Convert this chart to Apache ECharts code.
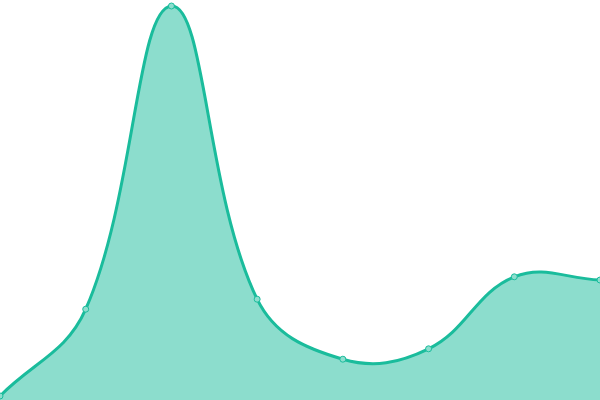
<!DOCTYPE html>
<html><head><meta charset="utf-8">
<script src="https://cdn.jsdelivr.net/npm/echarts@6/dist/echarts.min.js"></script>
<style>html,body{margin:0;padding:0;background:#fff}#c{width:600px;height:400px}</style>
</head><body><div id="c"></div>
<script>
const categories = ['A','B','C','D','E','F','G','H'];
const values = [1, 22.7, 98.5, 25.2, 10.2, 12.8, 30.8, 30];

// spline control points (tension-based, distance weighted)
function splineCps(points, t, rect) {
  const n = points.length;
  const out = [];
  for (let i = 0; i < n; i++) {
    const cur = points[i];
    const prev = points[i - 1] || cur;
    const next = points[i + 1] || cur;
    const d01 = Math.hypot(cur[0] - prev[0], cur[1] - prev[1]);
    const d12 = Math.hypot(next[0] - cur[0], next[1] - cur[1]);
    let s01 = d01 / (d01 + d12), s12 = d12 / (d01 + d12);
    if (isNaN(s01)) s01 = 0;
    if (isNaN(s12)) s12 = 0;
    const fa = t * s01, fb = t * s12;
    const dx = next[0] - prev[0], dy = next[1] - prev[1];
    const cl = (c) => [Math.min(Math.max(c[0], rect.x), rect.x + rect.width),
                       Math.min(Math.max(c[1], rect.y), rect.y + rect.height)];
    out.push({
      prev: cl([cur[0] - fa * dx, cur[1] - fa * dy]),
      next: cl([cur[0] + fb * dx, cur[1] + fb * dy])
    });
  }
  return out;
}

const chart = echarts.init(document.getElementById('c'));
chart.setOption({
  animation: false,
  grid: {left: 0, right: 0, top: 0, bottom: 0},
  xAxis: {type: 'category', data: categories, boundaryGap: false, show: false},
  yAxis: {type: 'value', min: 0, max: 100, show: false},
  series: [{
    type: 'custom',
    data: values.map((v, i) => [i, v]),
    encode: {x: 0, y: 1},
    clip: false,
    z: 1,
    renderItem: function (params, api) {
      if (params.dataIndex !== 0) return null;
      const pts = values.map((v, i) => api.coord([i, v]));
      const base = api.coord([0, 0])[1];
      const cs = params.coordSys;
      const cps = splineCps(pts, 0.4, {x: cs.x, y: cs.y, width: cs.width, height: cs.height});
      let d = 'M' + pts[0][0] + ' ' + pts[0][1];
      for (let i = 0; i < pts.length - 1; i++) {
        const a = cps[i].next, b = cps[i + 1].prev, p = pts[i + 1];
        d += ' C' + a[0] + ' ' + a[1] + ' ' + b[0] + ' ' + b[1] + ' ' + p[0] + ' ' + p[1];
      }
      const last = pts[pts.length - 1];
      const area = d + ' L' + last[0] + ' ' + base + ' L' + pts[0][0] + ' ' + base + ' Z';
      return {
        type: 'group',
        children: [
          {type: 'path', shape: {pathData: area}, style: {fill: 'rgba(26,188,156,0.5)', stroke: null}},
          {type: 'path', shape: {pathData: d}, style: {fill: null, stroke: '#1abc9c', lineWidth: 3}}
        ]
      };
    }
  }, {
    type: 'line', data: values, z: 3,
    symbol: 'circle', symbolSize: 6,
    lineStyle: {opacity: 0, width: 0},
    itemStyle: {color: '#8ddece', borderColor: '#1abc9c', borderWidth: 1}
  }]
});
</script></body></html>
